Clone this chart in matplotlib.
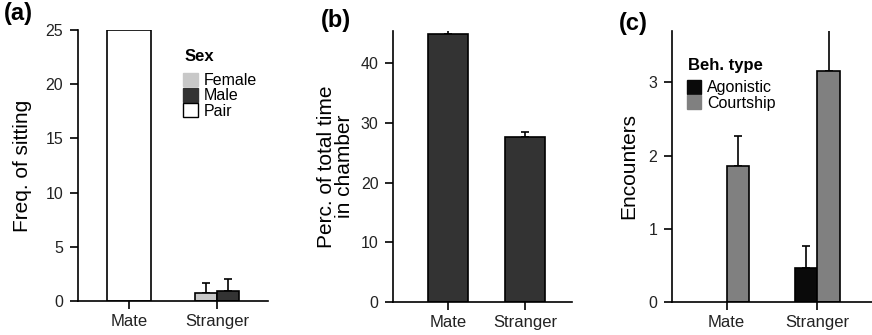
import matplotlib
matplotlib.use("Agg")
import matplotlib.pyplot as plt
from matplotlib.patches import Patch
import numpy as np

plt.rcParams['font.family'] = ['Liberation Sans', 'DejaVu Sans']

groups = ["Mate", "Stranger"]

# (a) frequency of sitting
pair_val = 25.0
female_val = 0.75
female_err = 0.9
male_val = 0.9
male_err = 1.1

# (b) percent of total time in chamber
time_vals = [44.9, 27.7]
time_errs = [0.6, 0.7]

# (c) encounters
agon_vals = [0.0, 0.47]
agon_errs = [0.0, 0.29]
court_vals = [1.86, 3.16]
court_errs = [0.40, 0.55]

c_female = "#c8c8c8"
c_male = "#333333"
c_pair = "white"
c_time = "#333333"
c_agon = "#0a0a0a"
c_court = "#808080"

fig = plt.figure(figsize=(8.72, 3.35), dpi=100)
ax1 = fig.add_axes([0.0894, 0.1015, 0.218, 0.809])
ax2 = fig.add_axes([0.4507, 0.0985, 0.2053, 0.809])
ax3 = fig.add_axes([0.7706, 0.0985, 0.2294, 0.809])

x = np.arange(len(groups))


def bars(ax, pos, vals, errs, width, color):
    # bars with upper error bars only; zero bars are not drawn
    pos = np.atleast_1d(pos)
    vals = np.atleast_1d(vals)
    errs = np.atleast_1d(errs)
    keep = vals > 0
    ax.bar(pos[keep], vals[keep], width=width, color=color,
           edgecolor="black", linewidth=1.2, zorder=2)
    ax.errorbar(pos[keep], vals[keep],
                yerr=[np.zeros(keep.sum()), errs[keep]], fmt="none",
                ecolor="black", elinewidth=1.2, capsize=3, capthick=1.2,
                zorder=1)


def legend(ax, handles, labels, title, xa, ya, ytitle):
    leg = ax.legend(handles=handles, labels=labels, loc="upper left",
                    bbox_to_anchor=(xa, ya), frameon=False, fontsize=11.5,
                    handlelength=0.9, handleheight=0.95, handletextpad=0.35,
                    labelspacing=0.0, borderpad=0, borderaxespad=0)
    ax.text(xa + 0.005, ytitle, title, transform=ax.transAxes, fontsize=12,
            fontweight="bold", va="top", ha="left")
    return leg


# panel a
bars(ax1, 0, pair_val, 0, 0.5, c_pair)
bars(ax1, 1 - 0.125, female_val, female_err, 0.25, c_female)
bars(ax1, 1 + 0.125, male_val, male_err, 0.25, c_male)
ax1.set_xlim(-0.58, 1.58)
ax1.set_ylim(0, 25)
ax1.set_yticks([0, 5, 10, 15, 20, 25])
ax1.set_ylabel("Freq. of sitting", fontsize=15, labelpad=10)
legend(ax1, [Patch(facecolor=c_female, edgecolor=c_female),
             Patch(facecolor=c_male, edgecolor=c_male),
             Patch(facecolor=c_pair, edgecolor="black")],
       ["Female", "Male", "Pair"], "Sex", 0.555, 0.843, 0.93)

# panel b
bars(ax2, x, time_vals, time_errs, 0.52, c_time)
ax2.set_xlim(-0.714, 1.61)
ax2.set_ylim(0, 45.4)
ax2.set_yticks([0, 10, 20, 30, 40])
ax2.set_ylabel("Perc. of total time\nin chamber", fontsize=15,
               linespacing=0.9, labelpad=5)

# panel c
bars(ax3, x - 0.125, agon_vals, agon_errs, 0.25, c_agon)
bars(ax3, x + 0.125, court_vals, court_errs, 0.25, c_court)
ax3.set_xlim(-0.6, 1.6)
ax3.set_ylim(0, 3.7)
ax3.set_yticks([0, 1, 2, 3])
ax3.set_ylabel("Encounters", fontsize=15, labelpad=7.5)
legend(ax3, [Patch(facecolor=c_agon, edgecolor=c_agon),
             Patch(facecolor=c_court, edgecolor=c_court)],
       ["Agonistic", "Courtship"], "Beh. type", 0.075, 0.82, 0.9)

for ax in [ax1, ax2, ax3]:
    ax.spines["top"].set_visible(False)
    ax.spines["right"].set_visible(False)
    ax.spines["left"].set_linewidth(1.2)
    ax.spines["bottom"].set_linewidth(1.2)
    ax.set_xticks(x)
    ax.set_xticklabels(groups)
    ax.tick_params(axis="both", width=1.2, length=5.5, pad=5, colors="black",
                   labelcolor="#222222")
    ax.tick_params(axis="x", labelsize=12, pad=4)
    ax.tick_params(axis="y", labelsize=11.5)

fig.text(0.005, 0.993, "(a)", fontsize=17, fontweight="bold", va="top")
fig.text(0.368, 0.972, "(b)", fontsize=17, fontweight="bold", va="top")
fig.text(0.710, 0.963, "(c)", fontsize=17, fontweight="bold", va="top")

fig.savefig("out.png", dpi=100)
